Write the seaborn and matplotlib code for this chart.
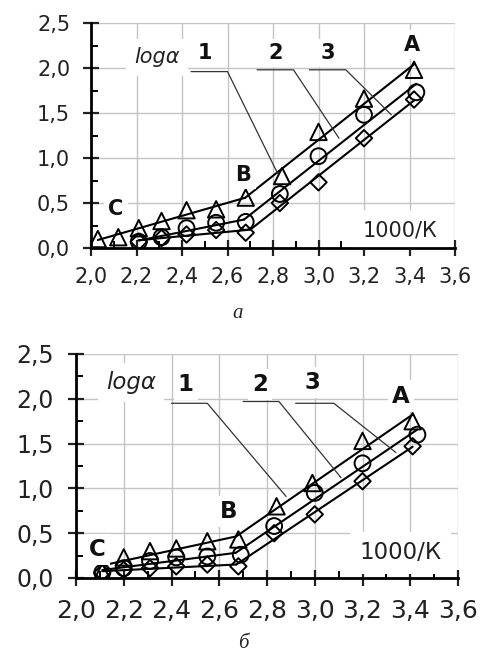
import numpy as np
import pandas as pd
import matplotlib
matplotlib.use("Agg")
import matplotlib.pyplot as plt
from matplotlib.ticker import MultipleLocator, FuncFormatter
import seaborn as sns

sns.set_theme(style="white")
plt.rcParams['font.family'] = ['DejaVu Sans']

# ---------------- data: panel a ----------------
a_tri_x = [2.03, 2.12, 2.21, 2.31, 2.42, 2.55, 2.68, 2.84, 3.00, 3.20, 3.42]
a_tri_y = [0.10, 0.12, 0.22, 0.30, 0.42, 0.43, 0.56, 0.80, 1.29, 1.66, 1.98]
a_tri_break = 6
a_cir_x = [2.21, 2.31, 2.42, 2.55, 2.68, 2.83, 3.00, 3.20, 3.43]
a_cir_y = [0.07, 0.12, 0.22, 0.28, 0.29, 0.60, 1.02, 1.48, 1.73]
a_cir_break = 4
a_dia_x = [2.21, 2.31, 2.42, 2.55, 2.68, 2.83, 3.00, 3.20, 3.42]
a_dia_y = [0.07, 0.11, 0.15, 0.20, 0.17, 0.50, 0.73, 1.22, 1.65]
a_dia_break = 4

# ---------------- data: panel б ----------------
b_tri_x = [2.11, 2.20, 2.31, 2.42, 2.55, 2.68, 2.84, 2.99, 3.20, 3.41]
b_tri_y = [0.07, 0.23, 0.30, 0.33, 0.41, 0.43, 0.80, 1.06, 1.53, 1.75]
b_tri_break = 5
b_cir_x = [2.11, 2.20, 2.31, 2.42, 2.55, 2.69, 2.83, 3.00, 3.20, 3.43]
b_cir_y = [0.06, 0.11, 0.19, 0.23, 0.24, 0.26, 0.58, 0.95, 1.28, 1.60]
b_cir_break = 5
b_dia_x = [2.11, 2.20, 2.31, 2.42, 2.55, 2.68, 2.83, 3.00, 3.20, 3.41]
b_dia_y = [0.06, 0.09, 0.11, 0.13, 0.15, 0.13, 0.50, 0.71, 1.08, 1.47]
b_dia_break = 5

x_ticks = [2.0, 2.2, 2.4, 2.6, 2.8, 3.0, 3.2, 3.4, 3.6]
y_ticks = [0.0, 0.5, 1.0, 1.5, 2.0, 2.5]

# annotation positions (text labels and leader lines)
a_labels = {"1": (2.50, 2.17), "2": (2.81, 2.17), "3": (3.04, 2.17),
            "A": (3.41, 2.26), "B": (2.67, 0.81), "C": (2.11, 0.43)}
a_leaders = [((2.44, 1.96), (2.60, 1.96), (2.82, 0.83)),
             ((2.73, 1.98), (2.89, 1.98), (3.09, 1.22)),
             ((2.96, 1.98), (3.12, 1.98), (3.32, 1.48))]
a_logpos = (2.29, 2.12)
a_kpos = (3.36, 0.20)

b_labels = {"1": (2.46, 2.16), "2": (2.77, 2.16), "3": (2.99, 2.18),
            "A": (3.36, 2.03), "B": (2.64, 0.74), "C": (2.09, 0.32)}
b_leaders = [((2.40, 1.95), (2.55, 1.95), (2.88, 0.91)),
             ((2.70, 1.97), (2.85, 1.97), (3.11, 1.12)),
             ((2.92, 1.95), (3.08, 1.95), (3.34, 1.40))]
b_logpos = (2.23, 2.18)
b_kpos = (3.36, 0.28)


def fit_segments(x, y, brk):
    x = np.asarray(x); y = np.asarray(y)
    p1 = np.polyfit(x[:brk + 1], y[:brk + 1], 1)
    p2 = np.polyfit(x[brk:], y[brk:], 1)
    xi = (p2[1] - p1[1]) / (p1[0] - p2[0])
    seg1 = pd.DataFrame({"x": [x[0], xi], "y": np.polyval(p1, [x[0], xi])})
    seg2 = pd.DataFrame({"x": [xi, x[-1]], "y": np.polyval(p2, [xi, x[-1]])})
    return seg1, seg2


def draw_panel(ax, series, labels, leaders, logpos, kpos, fs, xfs, yfs, xpad, ypad):
    ax.set_xlim(2.0, 3.6)
    ax.set_ylim(0.0, 2.5)
    ax.grid(True, which="major", color="#c4c4c4", lw=1.0)
    ax.set_axisbelow(True)
    for s in ["top", "right"]:
        ax.spines[s].set_visible(False)
    for s in ["left", "bottom"]:
        ax.spines[s].set_color("black")
        ax.spines[s].set_linewidth(2.0)
        ax.spines[s].set_zorder(7)
    ax.xaxis.set_major_locator(MultipleLocator(0.2))
    ax.xaxis.set_minor_locator(MultipleLocator(0.1))
    ax.yaxis.set_major_locator(MultipleLocator(0.5))
    ax.yaxis.set_minor_locator(MultipleLocator(0.25))
    fmt = FuncFormatter(lambda v, p: f"{v:.1f}".replace(".", ","))
    ax.xaxis.set_major_formatter(fmt)
    ax.yaxis.set_major_formatter(fmt)
    ax.tick_params(axis="both", which="both", bottom=True, left=True,
                   top=False, right=False)
    ax.tick_params(axis="both", which="major", direction="inout", length=12,
                   width=1.6, color="black")
    ax.tick_params(axis="both", which="minor", direction="in", length=5,
                   width=1.4, color="black")
    ax.tick_params(axis="x", labelsize=xfs, colors="#222222", pad=xpad)
    ax.tick_params(axis="y", labelsize=yfs, colors="#222222", pad=ypad)
    for t in ax.xaxis.get_ticklines(minor=False) + ax.yaxis.get_ticklines(minor=False):
        t.set_color("black")

    for (x, y, brk, mk, ms) in series:
        s1, s2 = fit_segments(x, y, brk)
        for seg in (s1, s2):
            sns.lineplot(data=seg, x="x", y="y", ax=ax, color="black", lw=1.5,
                         sort=False, estimator=None)
        sns.scatterplot(x=x, y=y, ax=ax, marker=mk, s=ms, fc="none",
                        ec="black", linewidth=1.4, zorder=4)

    bb = dict(facecolor="white", edgecolor="none", pad=3)
    for (p0, p1, p2) in leaders:
        ax.plot([p0[0], p1[0], p2[0]], [p0[1], p1[1], p2[1]], color="#333333",
                lw=0.9, zorder=3)
    for t, (x, y) in labels.items():
        ax.text(x, y, t, fontsize=fs, fontweight="bold", ha="center",
                va="center", color="#111111", bbox=bb, zorder=5)
    ax.text(logpos[0], logpos[1], "log\u03b1", fontsize=fs, style="italic",
            ha="center", va="center", color="#222222",
            bbox=dict(facecolor="white", edgecolor="none", pad=6), zorder=5)
    ax.text(kpos[0], kpos[1], "1000/К", fontsize=fs, ha="center",
            va="center", color="#222222",
            bbox=dict(facecolor="white", edgecolor="none", pad=7), zorder=5)
    ax.set_xlabel("")
    ax.set_ylabel("")


fig = plt.figure(figsize=(4.8, 6.54), dpi=100)
ax1 = fig.add_axes([91 / 480, (654 - 248) / 654, (455 - 91) / 480, (248 - 23) / 654])
ax2 = fig.add_axes([76 / 480, (654 - 578) / 654, (458 - 76) / 480, (578 - 354) / 654])

draw_panel(ax1, [(a_tri_x, a_tri_y, a_tri_break, "^", 140),
                 (a_cir_x, a_cir_y, a_cir_break, "o", 130),
                 (a_dia_x, a_dia_y, a_dia_break, "D", 70)],
           a_labels, a_leaders, a_logpos, a_kpos, 15, 15, 15, 8, 9)
draw_panel(ax2, [(b_tri_x, b_tri_y, b_tri_break, "^", 140),
                 (b_cir_x, b_cir_y, b_cir_break, "o", 130),
                 (b_dia_x, b_dia_y, b_dia_break, "D", 70)],
           b_labels, b_leaders, b_logpos, b_kpos, 16.5, 18, 17, 9, 10)

fig.text(238 / 480, 1 - 314 / 654, "а", family="Liberation Serif", style="italic",
         fontsize=15, ha="center", va="center")
fig.text(243 / 480, 1 - 644 / 654, "б", family="Liberation Serif", style="italic",
         fontsize=15, ha="center", va="center")

fig.savefig("out.png", dpi=100)
